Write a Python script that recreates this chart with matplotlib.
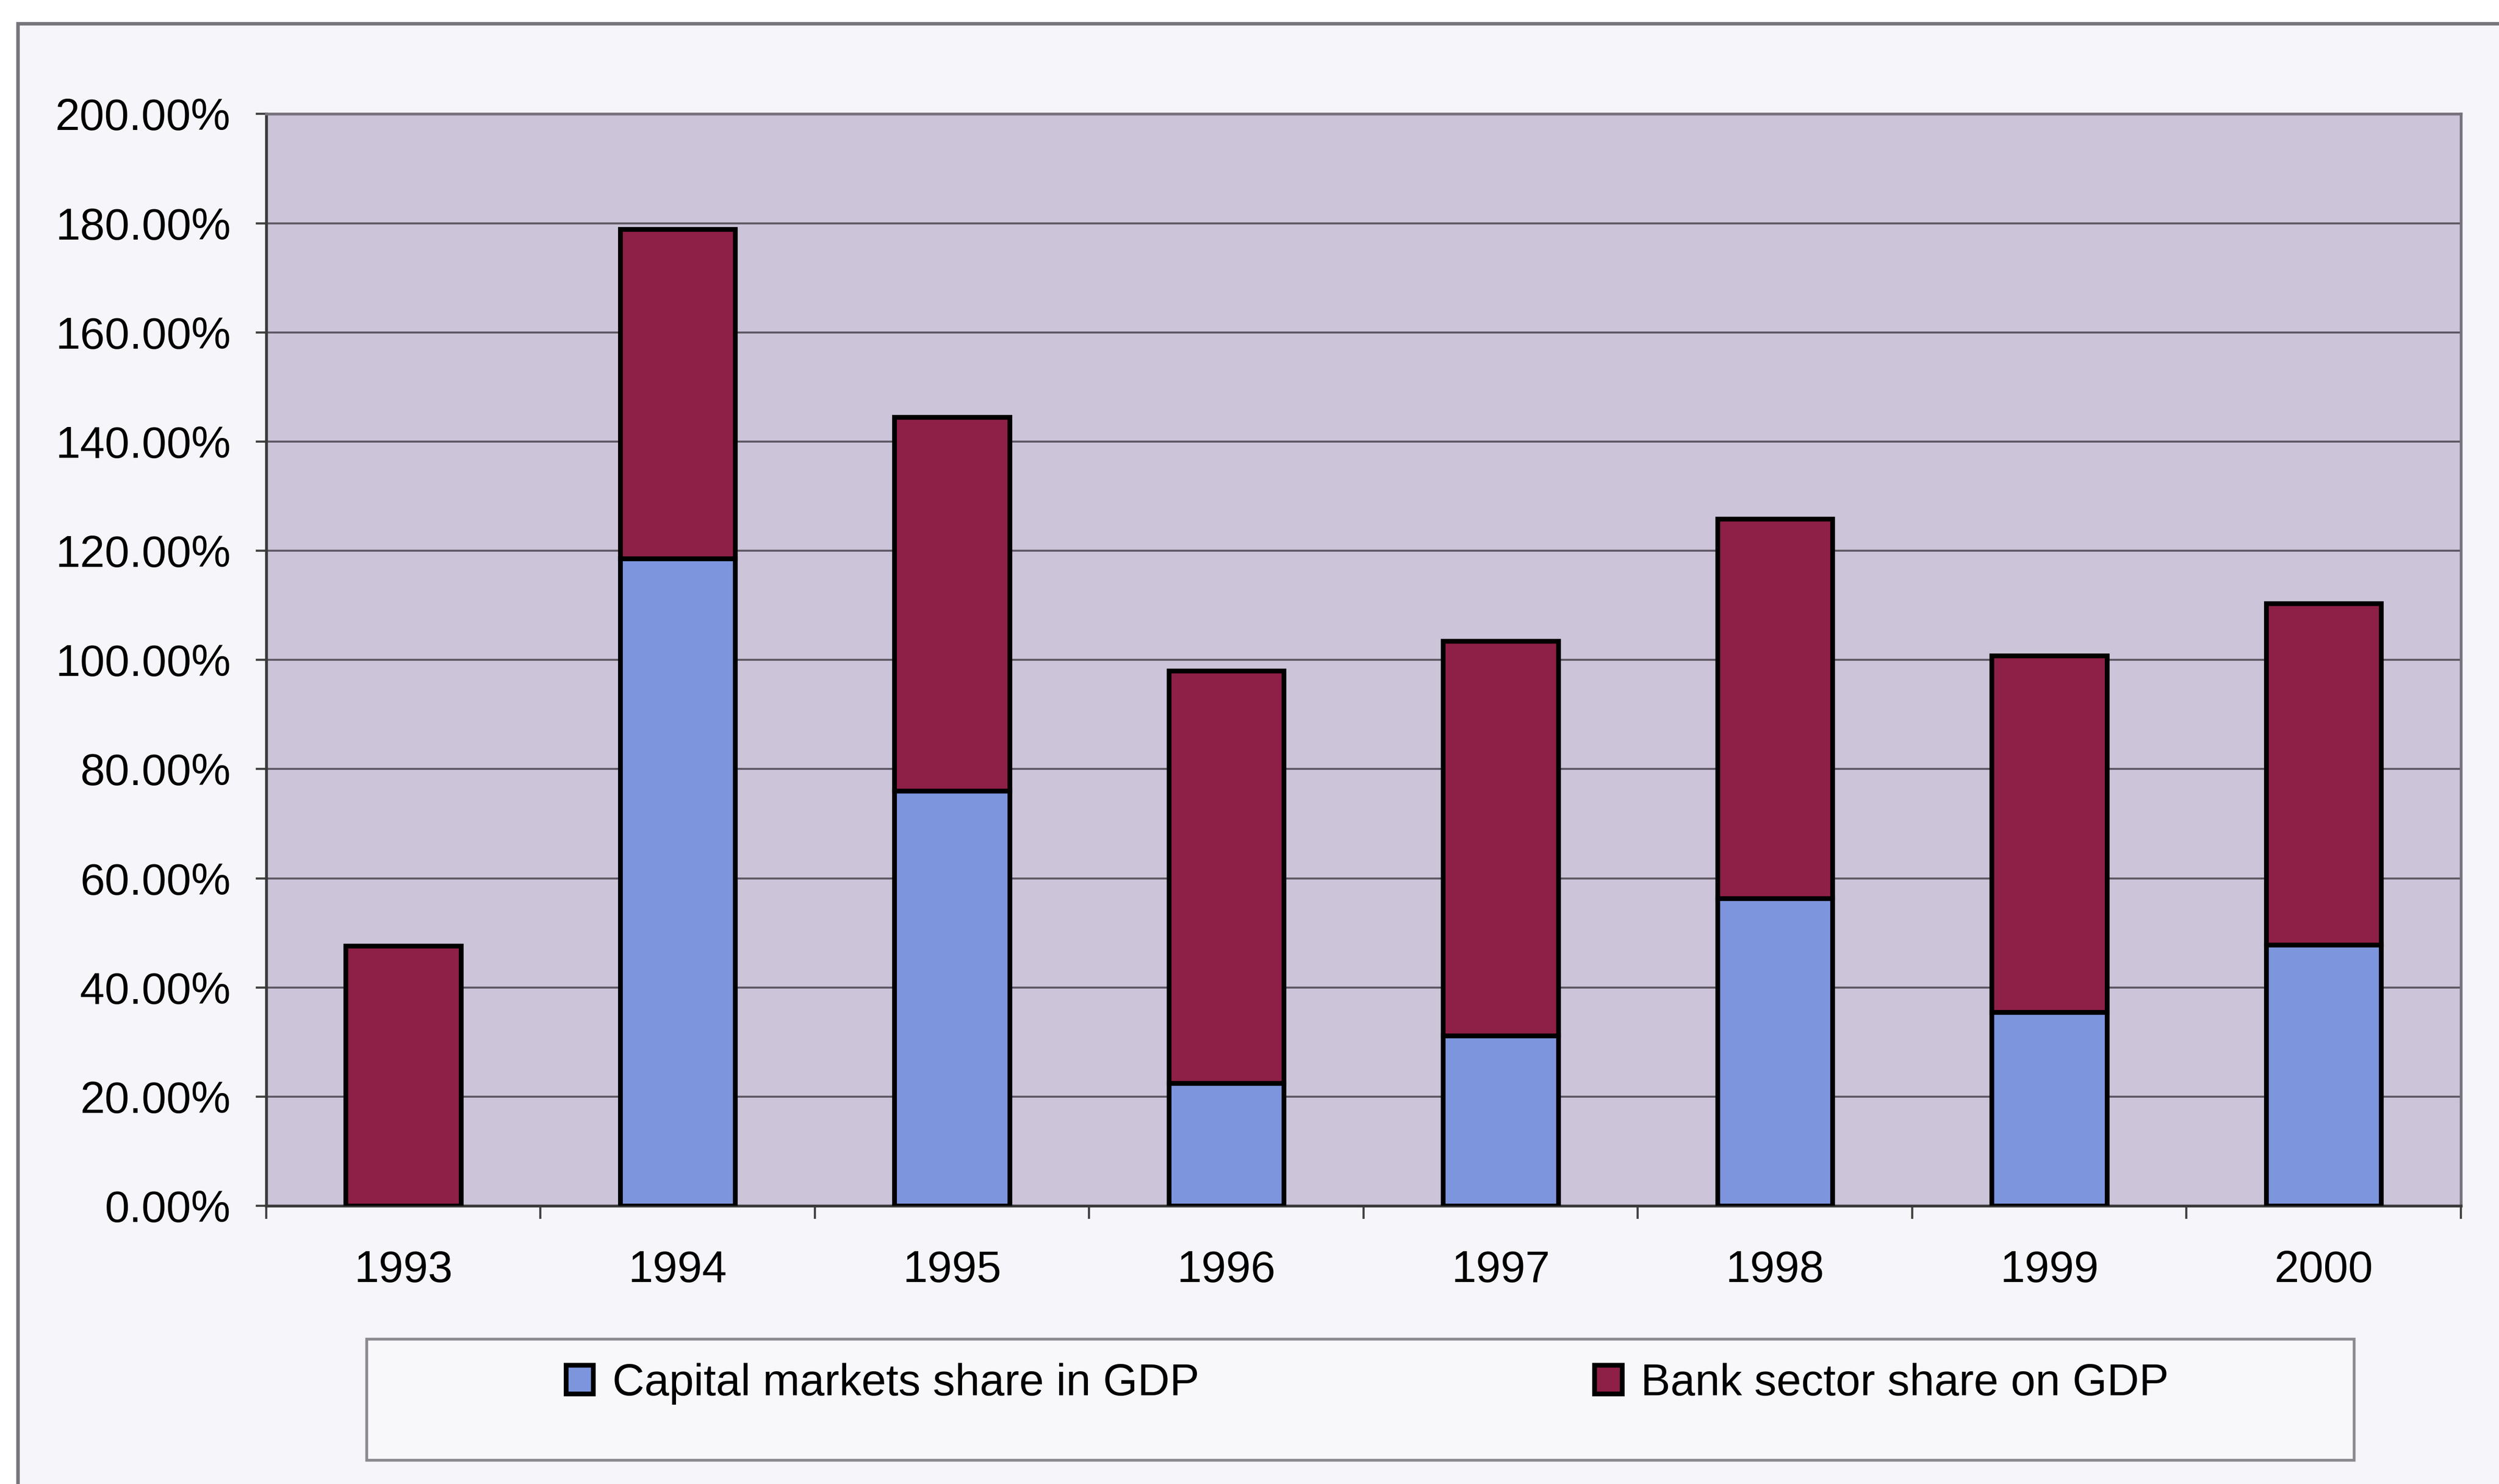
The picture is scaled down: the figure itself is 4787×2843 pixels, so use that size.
import matplotlib
matplotlib.use("Agg")
import matplotlib.pyplot as plt
from matplotlib.patches import Rectangle
from matplotlib.ticker import FuncFormatter, FixedLocator

plt.rcParams['font.family'] = ['Liberation Sans', 'DejaVu Sans']

# Shares of GDP, in percent
years = ['1993', '1994', '1995', '1996', '1997', '1998', '1999', '2000']
capital_share = [0.0, 118.6, 76.0, 22.5, 31.2, 56.3, 35.5, 47.8]
bank_share = [47.6, 60.3, 68.5, 75.5, 72.3, 69.5, 65.3, 62.6]

series_labels = ['Capital markets share in GDP', 'Bank sector share on GDP']

blue = '#7d95dd'
maroon = '#8e1f46'
plot_bg = '#ccc4d9'

fig = plt.figure(figsize=(4787 / 300, 2843 / 300), dpi=300)
fig.patch.set_facecolor('white')

# chart area frame (runs off the right and bottom edges)
fig.add_artist(Rectangle((0.007, -0.05), 1.1, 0.984 + 0.05, transform=fig.transFigure,
                         facecolor='#f6f6fa', edgecolor='#75757c', lw=1.6, zorder=-2))

ax = fig.add_axes([0.1065, 0.1874, 0.8782, 0.7358])
ax.set_facecolor(plot_bg)

x = list(range(len(years)))
b1 = ax.bar(x, capital_share, width=0.42, color=blue, edgecolor='black', lw=2.2,
            label=series_labels[0], zorder=3)
b2 = ax.bar(x, bank_share, width=0.42, bottom=capital_share, color=maroon,
            edgecolor='black', lw=2.2, label=series_labels[1], zorder=3)

ax.set_xlim(-0.5, len(years) - 0.5)
ax.set_ylim(0, 200)
ax.set_yticks(range(0, 201, 20))
ax.yaxis.set_major_formatter(FuncFormatter(lambda v, p: f'{v:.2f}%'))
ax.yaxis.grid(True, color='#5c5762', lw=0.9, zorder=1)
ax.set_axisbelow(True)

ax.set_xticks(x)
ax.set_xticklabels(years)
ax.xaxis.set_minor_locator(FixedLocator([i - 0.5 for i in range(len(years) + 1)]))
ax.tick_params(axis='x', which='major', length=0, pad=20, labelsize=20.4)
ax.tick_params(axis='x', which='minor', length=6, width=1.0, color='#444444', direction='out')
ax.tick_params(axis='y', length=4.8, width=1.0, color='#444444', pad=11.5, labelsize=20.4)

for side in ['left', 'bottom']:
    ax.spines[side].set_color('#3a3a3a')
    ax.spines[side].set_linewidth(1.3)
for side in ['top', 'right']:
    ax.spines[side].set_color('#77727c')
    ax.spines[side].set_linewidth(1.3)

# legend box below the plot
fig.add_artist(Rectangle((0.1467, 0.0161), 0.7953, 0.0816, transform=fig.transFigure,
                         facecolor='#f8f8fb', edgecolor='#8a8a90', lw=1.3, zorder=-1))
fig.legend(handles=[b1, b2], labels=series_labels, loc='center left',
           bbox_to_anchor=(0.2264, 0.0677), ncol=2, frameon=False, fontsize=20.4,
           handlelength=0.62, handleheight=0.62, handletextpad=0.43,
           columnspacing=8.9, borderaxespad=0, borderpad=0)

fig.savefig('out.png', dpi=300, facecolor=fig.get_facecolor())
